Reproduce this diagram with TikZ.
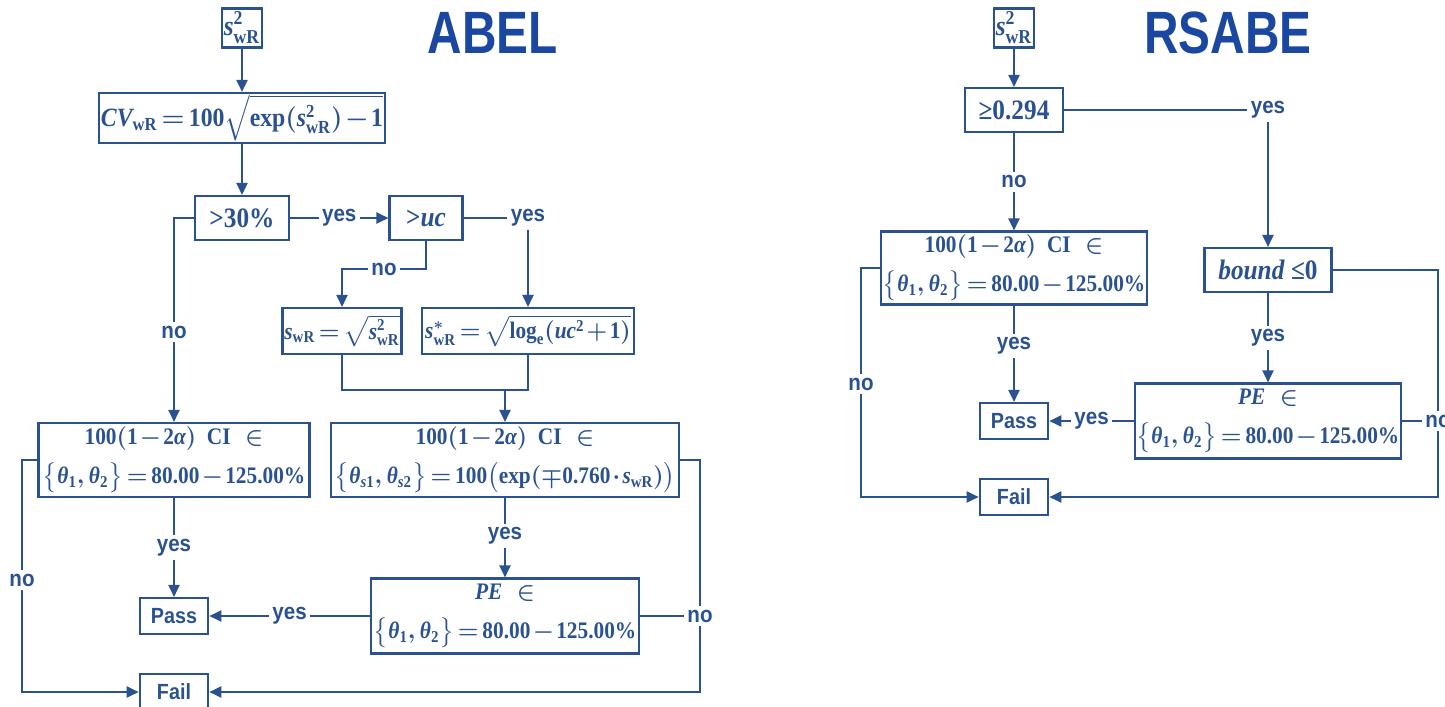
\documentclass[tikz,border=0pt]{standalone}
\usepackage{fix-cm}
\usepackage{amsmath}
\usepackage{fontspec}
\setmainfont{Liberation Serif}[FakeStretch=0.9]
\newfontfamily\lblfont{Liberation Sans}[FakeStretch=0.9]
\newfontfamily\ttlfont{Liberation Sans}[FakeStretch=0.8]
\usetikzlibrary{arrows.meta}
\definecolor{lnblue}{RGB}{42,82,145}
\definecolor{ttlblue}{RGB}{26,72,160}
\thickmuskip=2.5mu
\medmuskip=1.5mu
\newcommand{\tx}[1]{\text{#1}}
\newcommand{\swr}{\textit{s}_{\tx{wR}}}
\newcommand{\ssq}{\textit{s}^{\tx{2}}_{\tx{wR}}}

\begin{document}
\begin{tikzpicture}[x=0.02cm,y=-0.02cm,
  box/.style={draw=lnblue,line width=1.2pt,text=lnblue,align=center,inner sep=1pt,
              font=\fontsize{13.5}{22}\selectfont\bfseries\boldmath},
  bigbox/.style={box,font=\fontsize{16}{19}\selectfont\bfseries\boldmath},
  endbox/.style={box,font=\fontsize{12.5}{14}\selectfont\lblfont\bfseries,
                 minimum width=1.37cm,minimum height=0.72cm},
  lbl/.style={fill=white,text=lnblue,inner sep=2pt,
              font=\fontsize{13}{15}\selectfont\lblfont\bfseries},
  ttl/.style={text=ttlblue,font=\fontsize{34}{36}\selectfont\ttlfont\bfseries},
  ln/.style={draw=lnblue,line width=1.2pt},
  arr/.style={ln,-{Triangle[length=0.24cm,width=0.22cm]}}]
\useasboundingbox (0,0) rectangle (1445,707);
% ABEL
\node[ttl] (abel) at (493,33) {ABEL};
\node[bigbox,minimum width=0.8cm,minimum height=0.78cm] (asrc) at (242,28) {$\ssq$};
\node[bigbox,font=\fontsize{15}{18}\selectfont\bfseries\boldmath,
      minimum width=5.5cm,minimum height=0.94cm] (acv) at (242,118)
  {$\textit{CV}_{\tx{wR}}=\tx{100}\sqrt{\tx{exp}(\ssq)-\tx{1}}$};
\node[bigbox,minimum width=1.88cm,minimum height=0.88cm] (a30) at (242,218) {>30\%};
\node[bigbox,minimum width=1.46cm,minimum height=0.88cm] (auc) at (426,218) {>\textit{uc}};
\node[box,minimum width=2.38cm,minimum height=0.92cm] (asw) at (342,331)
  {$\swr=\sqrt{\ssq}$};
\node[box,minimum width=4.24cm,minimum height=0.92cm] (asws) at (528,331)
  {$\textit{s}^{*}_{\tx{wR}}=\sqrt{\tx{log}_{\tx{e}}(\textit{uc}^{\tx{2}}+\tx{1})}$};
\node[box,minimum width=5.42cm,minimum height=1.48cm] (acil) at (174,460)
  {$\tx{100}(\tx{1}-\tx{2}\textit{α})\ \ \tx{CI}\ \ \in$\\
   $\big\{\textit{θ}_{\tx{1}},\textit{θ}_{\tx{2}}\big\}=\tx{80.00}-\tx{125.00\%}$};
\node[box,minimum width=6.96cm,minimum height=1.48cm] (acir) at (505,460)
  {$\tx{100}(\tx{1}-\tx{2}\textit{α})\ \ \tx{CI}\ \ \in$\\
   $\big\{\textit{θ}_{\textit{s}\tx{1}},\textit{θ}_{\textit{s}\tx{2}}\big\}=\tx{100}\big(\tx{exp}(\mp\tx{0.760}\cdot\swr)\big)$};
\node[box,minimum width=5.36cm,minimum height=1.5cm] (ape) at (505,616)
  {$\textit{PE}\ \ \in$\\
   $\big\{\textit{θ}_{\tx{1}},\textit{θ}_{\tx{2}}\big\}=\tx{80.00}-\tx{125.00\%}$};
\node[endbox] (apass) at (174,616) {Pass};
\node[endbox] (afail) at (174,692) {Fail};
\node[lbl] (anol) at (22,580) {no};
\node[lbl] (anor) at (700,616) {no};
\draw[arr] (asrc) -- (acv);
\draw[arr] (acv) -- (a30);
\draw[arr] (a30) -- node[lbl]{yes} (auc);
\draw[arr] (auc.east) -| node[lbl,pos=0.5]{yes} (asws.north);
\draw[arr] (auc.south) -- ++(0,28) -| node[lbl,pos=0.25]{no} (asw.north);
\draw[arr] (a30.west) -| node[lbl,pos=0.78]{no} (acil.north);
\coordinate (amrg) at (505,390);
\draw[ln] (asw.south) |- (amrg) -| (asws.south);
\draw[arr] (amrg) -- (acir.north);
\draw[arr] (acil) -- node[lbl]{yes} (apass);
\draw[arr] (acir) -- node[lbl,pos=0.48]{yes} (ape);
\draw[arr] (ape) -- node[lbl]{yes} (apass);
\draw[ln] (acil.west) -| (anol.north);
\draw[arr] (anol.south) |- (afail.west);
\draw[ln] (acir.east) -| (anor.north);
\draw[ln] (ape.east) -- (anor.west);
\draw[arr] (anor.south) |- (afail.east);
% RSABE
\node[ttl] (rsabe) at (1228,33) {RSABE};
\node[bigbox,minimum width=0.8cm,minimum height=0.78cm] (rsrc) at (1014,28) {$\ssq$};
\node[bigbox,minimum width=1.96cm,minimum height=0.88cm] (r294) at (1014,110) {≥0.294};
\node[box,minimum width=5.26cm,minimum height=1.46cm] (rci) at (1014,268)
  {$\tx{100}(\tx{1}-\tx{2}\textit{α})\ \ \tx{CI}\ \ \in$\\
   $\big\{\textit{θ}_{\tx{1}},\textit{θ}_{\tx{2}}\big\}=\tx{80.00}-\tx{125.00\%}$};
\node[bigbox,minimum width=2.54cm,minimum height=0.88cm] (rbnd) at (1268,270) {\textit{bound} ≤0};
\node[box,minimum width=5.26cm,minimum height=1.5cm] (rpe) at (1268,421)
  {$\textit{PE}\ \ \in$\\
   $\big\{\textit{θ}_{\tx{1}},\textit{θ}_{\tx{2}}\big\}=\tx{80.00}-\tx{125.00\%}$};
\node[endbox] (rpass) at (1014,421) {Pass};
\node[endbox] (rfail) at (1014,497) {Fail};
\node[lbl] (rnol) at (861,384) {no};
\node[lbl] (rnor) at (1438,421) {no};
\draw[arr] (rsrc) -- (r294);
\draw[arr] (r294.east) -| node[lbl,pos=0.5]{yes} (rbnd.north);
\draw[arr] (r294) -- node[lbl]{no} (rci);
\draw[arr] (rbnd) -- node[lbl]{yes} (rpe);
\draw[arr] (rci) -- node[lbl,pos=0.42]{yes} (rpass);
\draw[arr] (rpe) -- node[lbl]{yes} (rpass);
\draw[ln] (rci.west) -| (rnol.north);
\draw[arr] (rnol.south) |- (rfail.west);
\draw[ln] (rbnd.east) -| (rnor.north);
\draw[ln] (rpe.east) -- (rnor.west);
\draw[arr] (rnor.south) |- (rfail.east);
\end{tikzpicture}
\end{document}
